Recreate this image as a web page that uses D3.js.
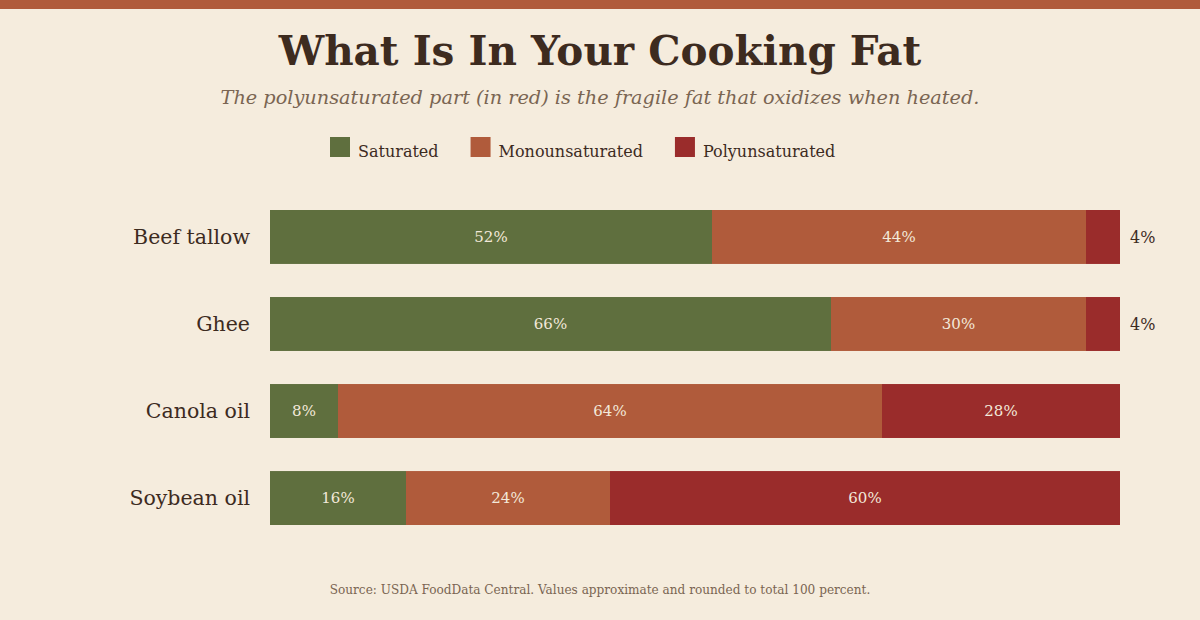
<!DOCTYPE html>
<html>
<head>
<meta charset="utf-8">
<script src="https://cdn.jsdelivr.net/npm/d3@7"></script>
<style>
  html, body { margin: 0; padding: 0; background: #f5ecdd; }
  svg { display: block; }
  text { font-family: Georgia, "DejaVu Serif", serif; }
</style>
</head>
<body>
<svg width="1200" height="620"></svg>
<script>
// data
var categories = ["Beef tallow", "Ghee", "Canola oil", "Soybean oil"];
var seriesNames = ["Saturated", "Monounsaturated", "Polyunsaturated"];
var saturated = [52, 66, 8, 16];
var monounsaturated = [44, 30, 64, 24];
var polyunsaturated = [4, 4, 28, 60];
var colors = ["#5f6f3e", "#b05b3b", "#9a2c2b"];

var svg = d3.select("svg"),
    W = 1200, H = 620,
    margin = {top: 210, right: 80, bottom: 95, left: 270},
    width = W - margin.left - margin.right,
    height = H - margin.top - margin.bottom;

svg.append("rect").attr("width", W).attr("height", H).attr("fill", "#f5ecdd");
svg.append("rect").attr("width", W).attr("height", 9).attr("fill", "#b05b3b");

svg.append("text")
    .attr("x", W / 2).attr("y", 65)
    .attr("text-anchor", "middle")
    .attr("font-size", 40.5).attr("font-weight", "bold")
    .attr("fill", "#3d2b1f")
    .text("What Is In Your Cooking Fat");

svg.append("text")
    .attr("x", W / 2).attr("y", 104)
    .attr("text-anchor", "middle")
    .attr("font-size", 19.3).attr("font-style", "italic")
    .attr("fill", "#7a6552")
    .text("The polyunsaturated part (in red) is the fragile fat that oxidizes when heated.");

// legend
var legend = svg.append("g");
var lx = 330;
seriesNames.forEach(function(name, i) {
  var item = legend.append("g").attr("transform", "translate(" + lx + ",137)");
  item.append("rect").attr("width", 20).attr("height", 20).attr("fill", colors[i]);
  var t = item.append("text").attr("x", 28).attr("y", 20)
      .attr("font-size", 16).attr("fill", "#3d2b1f").text(name);
  lx += 28 + t.node().getComputedTextLength() + 32;
});

var table = categories.map(function(c, i) {
  return {category: c, Saturated: saturated[i], Monounsaturated: monounsaturated[i], Polyunsaturated: polyunsaturated[i]};
});
var stack = d3.stack().keys(seriesNames)(table);

var x = d3.scaleLinear().domain([0, 100]).range([0, width]);
var y = d3.scaleBand().domain(categories).range([0, height]).paddingInner(0.38).paddingOuter(0.0);

var g = svg.append("g").attr("transform", "translate(" + margin.left + "," + margin.top + ")");

var layers = g.selectAll(".layer")
  .data(stack)
  .enter().append("g")
    .attr("class", "layer")
    .attr("fill", function(d, i) { return colors[i]; });

layers.selectAll("rect")
  .data(function(d) { return d; })
  .enter().append("rect")
    .attr("x", function(d) { return x(d[0]); })
    .attr("y", function(d) { return y(d.data.category); })
    .attr("width", function(d) { return x(d[1]) - x(d[0]); })
    .attr("height", y.bandwidth());

function narrow(d) { return x(d[1]) - x(d[0]) < 45; }

layers.selectAll("text")
  .data(function(d) { return d; })
  .enter().append("text")
    .attr("x", function(d) { return narrow(d) ? x(d[1]) + 10 : (x(d[0]) + x(d[1])) / 2; })
    .attr("y", function(d) { return y(d.data.category) + y.bandwidth() / 2; })
    .attr("dy", "0.35em")
    .attr("text-anchor", function(d) { return narrow(d) ? "start" : "middle"; })
    .attr("font-size", function(d) { return narrow(d) ? 16 : 15; })
    .attr("fill", function(d) { return narrow(d) ? "#3d2b1f" : "#f3e9da"; })
    .text(function(d) { return (d[1] - d[0]) + "%"; });

var yAxis = g.append("g")
    .call(d3.axisLeft(y).tickSize(0).tickPadding(20));
yAxis.select(".domain").remove();
yAxis.selectAll("text")
    .attr("font-family", "Georgia, 'DejaVu Serif', serif")
    .attr("font-size", 20.5)
    .attr("fill", "#3d2b1f");

svg.append("text")
    .attr("x", W / 2).attr("y", 594)
    .attr("text-anchor", "middle")
    .attr("font-size", 12.1)
    .attr("fill", "#7a6552")
    .text("Source: USDA FoodData Central. Values approximate and rounded to total 100 percent.");
</script>
</body>
</html>
